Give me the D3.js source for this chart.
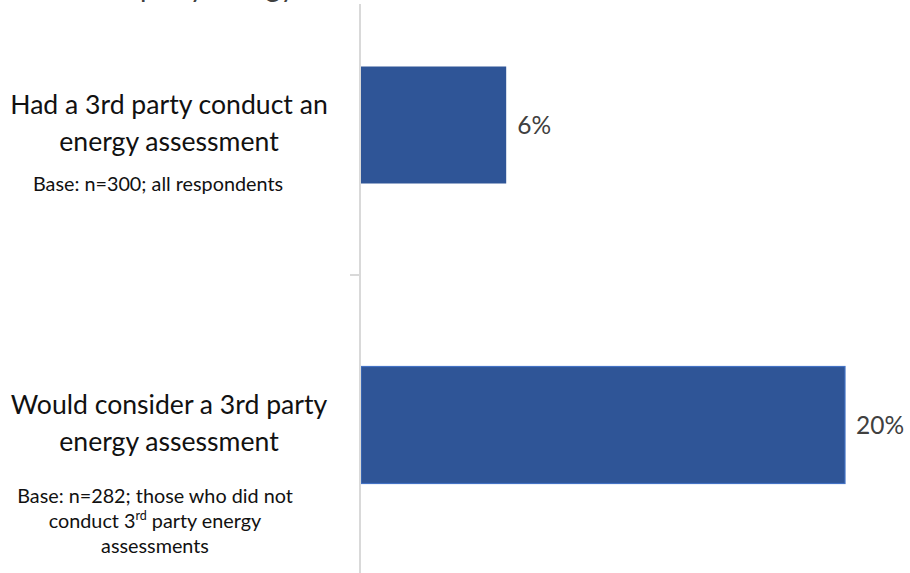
<!DOCTYPE html>
<html>
<head>
<meta charset="utf-8">
<script src="https://cdn.jsdelivr.net/npm/d3@7"></script>
<style>
  html, body { margin: 0; padding: 0; background: #ffffff; }
  svg { display: block; font-family: Lato, "Open Sans", sans-serif; }
</style>
</head>
<body>
<svg id="chart" width="910" height="573"></svg>
<script>
// Share of respondents, in percent
const categories = ["Had a 3rd party conduct an energy assessment", "Would consider a 3rd party energy assessment"];
const labelLines = [["Had a 3rd party conduct an", "energy assessment"], ["Would consider a 3rd party", "energy assessment"]];
const baseNotes = [["Base: n=300; all respondents"], ["Base: n=282; those who did not", "conduct 3|rd| party energy", "assessments"]];
const values = [6, 20];
const valueLabels = ["6%", "20%"];
const titleText = "party energy";

const svg = d3.select("#chart");
const axisX = 360;

const y = d3.scaleBand()
  .domain(categories)
  .range([-25, 575])
  .paddingInner(0.61)
  .paddingOuter(0.305);

const x = d3.scaleLinear()
  .domain([0, 20])
  .range([0, 484]);

// Title, running off the top edge
svg.append("text")
  .attr("x", 140)
  .attr("y", -3)
  .attr("font-size", 28)
  .attr("fill", "#404040")
  .text(titleText);

const plot = svg.append("g").attr("transform", `translate(${axisX},0)`);

// Bars
plot.selectAll("rect.bar")
  .data(categories)
  .join("rect")
  .attr("class", "bar")
  .attr("x", 1)
  .attr("y", d => y(d))
  .attr("width", (d, i) => x(values[i]))
  .attr("height", y.bandwidth())
  .attr("fill", "#2F5597")
  .attr("stroke", (d, i) => i === 1 ? "#4472C4" : "none")
  .attr("stroke-width", 1.2);

// Value labels
plot.selectAll("text.val")
  .data(categories)
  .join("text")
  .attr("class", "val")
  .attr("x", (d, i) => x(values[i]) + 12)
  .attr("y", d => y(d) + y.bandwidth() / 2 + 9)
  .attr("font-size", 24.5)
  .attr("fill", "#404040")
  .text((d, i) => valueLabels[i]);

// Category axis
const axis = d3.axisLeft(y).tickSize(0).tickSizeOuter(0).tickFormat("");
const axisG = plot.append("g").call(axis);
axisG.select(".domain")
  .attr("d", "M0,4V573")
  .attr("stroke", "#d9d9d9")
  .attr("stroke-width", 2);
axisG.selectAll(".tick").remove();

// Tick marks between categories
const boundaries = categories.slice(1).map((d, i) => y.range()[0] + y.step() * (i + 1));
axisG.selectAll("line.sep")
  .data(boundaries)
  .join("line")
  .attr("class", "sep")
  .attr("x1", -10).attr("x2", 0)
  .attr("y1", d => d).attr("y2", d => d)
  .attr("stroke", "#d9d9d9")
  .attr("stroke-width", 2);

// Category labels with base notes
const labelCenter = 169;
categories.forEach((cat, i) => {
  const cy = y(cat) + y.bandwidth() / 2;
  const t = svg.append("text")
    .attr("text-anchor", "middle")
    .attr("font-size", 26.6)
    .attr("fill", "#111111");
  labelLines[i].forEach((line, j) => {
    t.append("tspan")
      .attr("x", labelCenter)
      .attr("y", cy - 11 + j * 37)
      .text(line);
  });

  const noteTop = i === 0 ? cy + 66 : cy + 78;
  const n = svg.append("text")
    .attr("text-anchor", "middle")
    .attr("font-size", 19.8)
    .attr("fill", "#111111");
  baseNotes[i].forEach((line, j) => {
    const span = n.append("tspan")
      .attr("x", i === 0 ? 158 : 155)
      .attr("y", noteTop + j * 25);
    const parts = line.split("|");
    parts.forEach((p, k) => {
      if (k % 2 === 1) {
        span.append("tspan").attr("font-size", 12.5).attr("dy", -8).text(p);
      } else if (k > 0) {
        span.append("tspan").attr("dy", 8).text(p);
      } else {
        span.append("tspan").text(p);
      }
    });
  });
});
</script>
</body>
</html>
